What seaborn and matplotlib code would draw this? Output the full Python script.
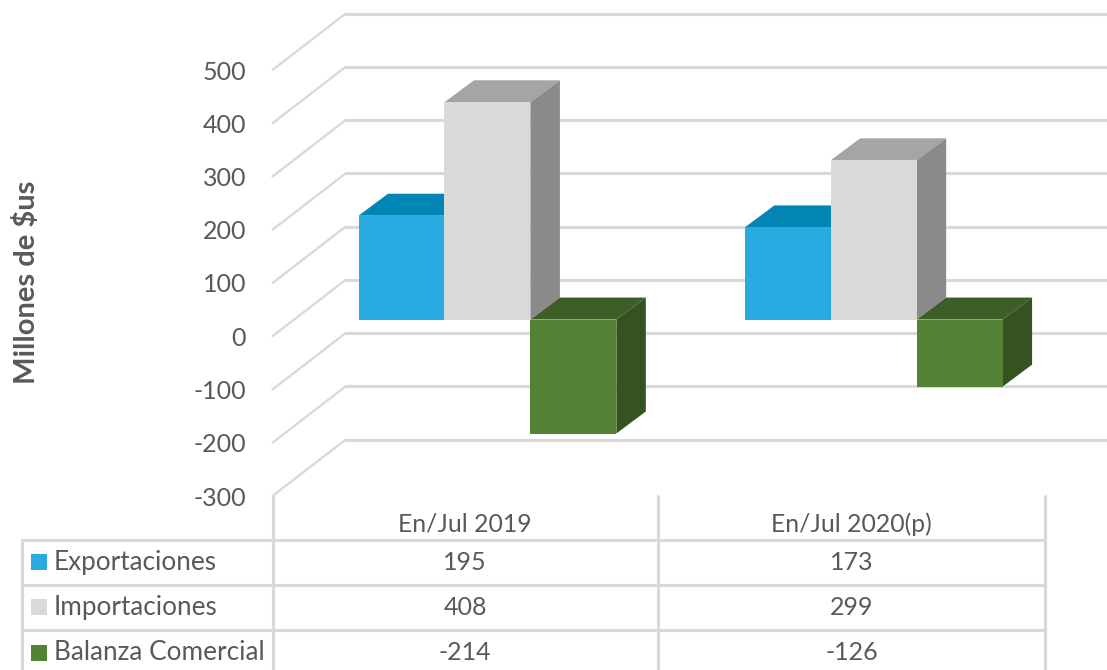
import pandas as pd
import seaborn as sns
import matplotlib.pyplot as plt
from matplotlib.patches import Polygon, Rectangle
from matplotlib.transforms import ScaledTranslation

periodos = ['En/Jul 2019', 'En/Jul 2020(p)']
series = ['Exportaciones', 'Importaciones', 'Balanza Comercial']
exportaciones = [195, 173]
importaciones = [408, 299]
balanza = [-214, -126]
y_ticks = [500, 400, 300, 200, 100, 0, -100, -200, -300]

colores = ['#29ABE2', '#D9D9D9', '#548235']
colores_top = ['#0085B5', '#A5A5A5', '#3E5E27']
colores_lado = ['#0085B5', '#8A8A8A', '#355221']
gris = '#D9D9D9'
texto = '#595959'

W, H = 1107, 670
sns.set_theme(style='white')
plt.rcParams['font.family'] = ['Lato', 'DejaVu Sans']

df = pd.DataFrame({
    'periodo': periodos * 3,
    'serie': [s for s in series for _ in periodos],
    'valor': exportaciones + importaciones + balanza,
})

fig = plt.figure(figsize=(W / 100, H / 100), dpi=100, facecolor='white')

# capa en pixeles para la tabla y los textos
page = fig.add_axes([0, 0, 1, 1])
page.set_xlim(0, W)
page.set_ylim(H, 0)
page.axis('off')

# plano frontal del grafico 3D
x0, x1 = 272.5, 1045
y_top, y_bot = 70, 496
ax = fig.add_axes([x0 / W, 1 - y_bot / H, (x1 - x0) / W, (y_bot - y_top) / H])
ax.patch.set_alpha(0)

sns.barplot(data=df, x='periodo', y='valor', hue='serie', hue_order=series, order=periodos,
            palette=colores, saturation=1, width=0.6675, gap=0, legend=False, ax=ax)

ax.set_xlim(-0.5, 1.5)
ax.set_ylim(-300, 500)
ax.set_xlabel('')
ax.set_ylabel('')
ax.set_xticks([])
ax.set_yticks(y_ticks)
ax.set_yticklabels([str(v) for v in y_ticks], fontsize=18, color=texto)
ax.tick_params(axis='y', length=0, pad=19)
sns.despine(ax=ax, left=True, bottom=True)


def desplazado(dx, dy):
    return ax.transData + ScaledTranslation(dx / 100, dy / 100, fig.dpi_scale_trans)


# rejilla: diagonal del suelo y linea de la pared del fondo
px_x = (x1 - x0) / 2
px_y = (y_bot - y_top) / 800
fondo = desplazado(73, 56.3)
x_fin = -0.5 + (W - 345) / px_x
for v in y_ticks:
    ax.plot([-0.5, -0.5 + 73 / px_x], [v, v + 56.3 / px_y], color=gris, lw=1.7, clip_on=False, zorder=1,
            solid_capstyle='round')
    ax.plot([-0.5, x_fin], [v, v], color=gris, lw=2.2, clip_on=False, zorder=1, transform=fondo)

# caras superior y lateral de cada barra
frente = desplazado(21.8, 16.7)
dx = 29.5 / px_x
dy = 22 / px_y
for i, cont in enumerate(ax.containers):
    for bar in cont:
        izq = bar.get_x()
        der = izq + bar.get_width()
        arriba = max(bar.get_y(), bar.get_y() + bar.get_height())
        abajo = min(bar.get_y(), bar.get_y() + bar.get_height())
        bar.set_transform(frente)
        bar.set_zorder(3 + i + 0.5)
        bar.set_clip_on(False)
        bar.set_linewidth(0)
        sup = Polygon([(izq, arriba), (der, arriba), (der + dx, arriba + dy), (izq + dx, arriba + dy)],
                      facecolor=colores_top[i], lw=0, zorder=3 + i, transform=frente, clip_on=False)
        lado = Polygon([(der, abajo), (der + dx, abajo + dy), (der + dx, arriba + dy), (der, arriba)],
                       facecolor=colores_lado[i], lw=0, zorder=3 + i, transform=frente, clip_on=False)
        ax.add_patch(sup)
        ax.add_patch(lado)

# tabla de datos
t_x = [21.5, 272.5, 658, 1045]
t_y = [539.5, 584.5, 630]
for x in t_x[1:]:
    page.plot([x, x], [496, H], color=gris, lw=2.2)
page.plot([t_x[0], t_x[0]], [t_y[0], H], color=gris, lw=2.2)
for y in t_y:
    page.plot([t_x[0], t_x[-1]], [y, y], color=gris, lw=2.2)
page.set_xlim(0, W)
page.set_ylim(H, 0)

centros = [(t_x[1] + t_x[2]) / 2, (t_x[2] + t_x[3]) / 2]
for c, p in zip(centros, periodos):
    page.text(c, 532, p, ha='center', va='baseline', fontsize=17.8, color=texto)

filas = [exportaciones, importaciones, balanza]
for k, (nombre, vals) in enumerate(zip(series, filas)):
    yc = t_y[k] + 22.5
    page.add_patch(Rectangle((31, yc - 8), 16, 16, facecolor=colores[k], lw=0))
    page.text(54, yc + 8, nombre, ha='left', va='baseline', fontsize=18.8, color=texto)
    for c, v in zip(centros, vals):
        page.text(c, yc + 8, str(v), ha='center', va='baseline', fontsize=18, color=texto)

page.text(27, 282, 'Millones de $us', rotation=90, ha='center', va='center', fontsize=21,
          fontweight='bold', color=texto)

fig.savefig('out.png', dpi=100)
